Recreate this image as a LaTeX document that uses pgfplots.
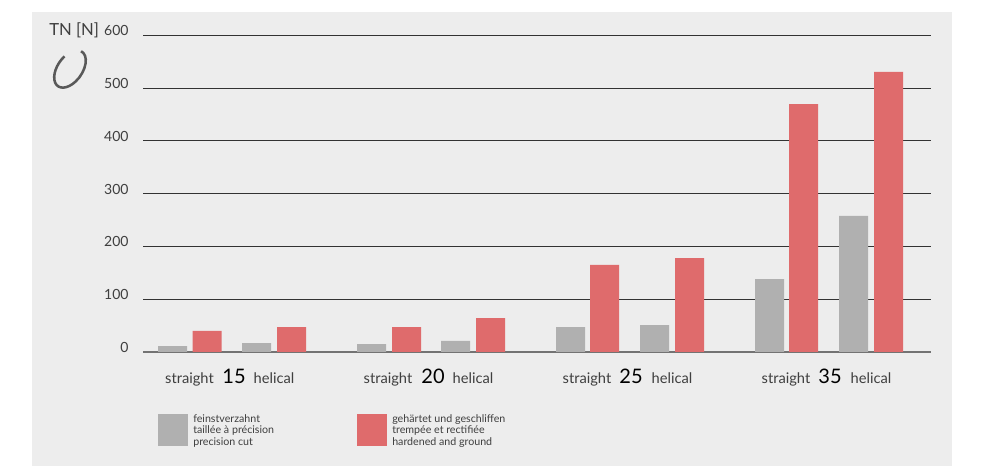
\documentclass[border=0pt]{standalone}
\usepackage{fontspec}
\setmainfont{Lato}
\usepackage{pgfplots}
\pgfplotsset{compat=1.18}
\definecolor{panel}{HTML}{EDEDED}
\definecolor{barGray}{HTML}{B0B0B0}
\definecolor{barRed}{HTML}{DF6B6C}
\definecolor{ink}{HTML}{3F3F3F}
\begin{document}
\begin{tikzpicture}[x=0.75pt,y=0.75pt]
\path[use as bounding box] (0,0) rectangle (992,466);
\fill[white] (0,0) rectangle (992,466);
\fill[panel] (32,0) rectangle (952,454);
\begin{axis}[
  at={(107.25pt,85.5pt)}, anchor=south west,
  scale only axis, width=591pt, height=237.4pt,
  xmin=143, xmax=931, ymin=0, ymax=600,
  clip=false,
  axis lines*=left,
  y axis line style={draw=none},
  x axis line style={draw=black!55, line width=1.1pt},
  axis line style={-},
  major tick length=0pt,
  ytick={0,100,200,300,400,500,600},
  ymajorgrids,
  grid style={draw=black!80, line width=0.75pt},
  yticklabel style={font=\fontsize{10.5}{12}\selectfont, text=ink, anchor=east, xshift=-7.3pt, yshift=3.4pt, /pgf/number format/assume math mode=true},
  xtick={189.5,234,274,388,433,473,587,631,672,786,830,871},
  xticklabels={straight,{\fontsize{15}{15}\selectfont\color{black}15},helical,
               straight,{\fontsize{15}{15}\selectfont\color{black}20},helical,
               straight,{\fontsize{15}{15}\selectfont\color{black}25},helical,
               straight,{\fontsize{15}{15}\selectfont\color{black}35},helical},
  xticklabel style={font=\fontsize{11}{12}\selectfont, text=ink, anchor=base, yshift=-23.3pt},
  ybar, bar shift=0pt, bar width=21.75pt,
]
% precision cut
\addplot[draw=none, fill=barGray] coordinates {
  (172.5,11) (256.5,17) (371.5,15) (455.5,21)
  (570.5,47) (654.5,51) (769.5,138) (853.5,258)};
% hardened and ground
\addplot[draw=none, fill=barRed] coordinates {
  (207,40) (291.5,47) (406.5,47) (490.5,64)
  (604.5,165) (689.5,178) (803.5,470) (888.5,531)};
\end{axis}
% unit label and O-ring symbol
\node[anchor=base west, text=ink, font=\fontsize{12.5}{14}\selectfont, inner sep=0pt] at (49,430) {TN [N]};
\draw[black!65, line width=1.9pt, rotate around={55:(70,397)}]
  ({70+21*cos(70)},{397+12.5*sin(70)}) arc[start angle=70, end angle=365, x radius=21, y radius=12.5];
% legend
\fill[barGray] (158,20) rectangle (188,52);
\fill[barRed] (357,20) rectangle (387,52);
\node[anchor=north west, align=left, text=ink, font=\fontsize{8}{8.8}\selectfont, inner sep=0pt] at (193,52)
  {feinstverzahnt\\taillée à précision\\precision cut};
\node[anchor=north west, align=left, text=ink, font=\fontsize{8}{8.8}\selectfont, inner sep=0pt] at (392,52)
  {gehärtet und geschliffen\\trempée et rectifiée\\hardened and ground};
\end{tikzpicture}
\end{document}
